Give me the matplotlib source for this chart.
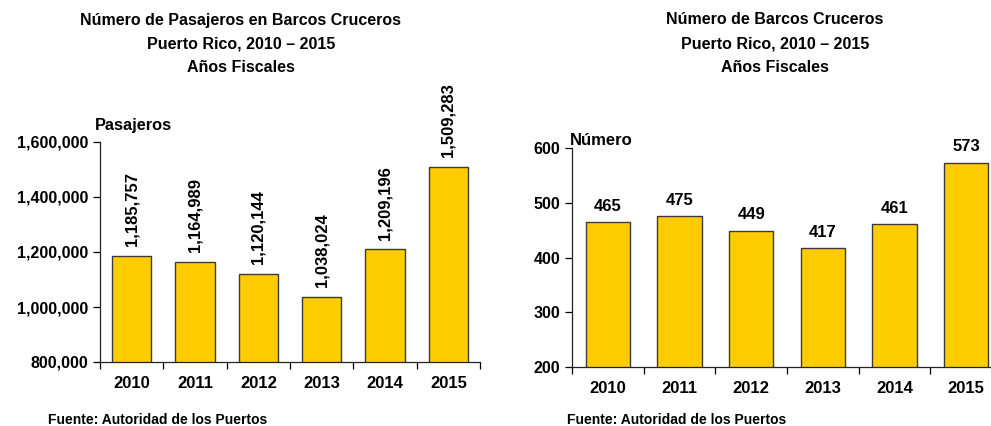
import numpy as np
import matplotlib.pyplot as plt

plt.rcParams['font.family'] = ['Liberation Sans', 'DejaVu Sans']
plt.rcParams['font.weight'] = 'bold'

years = ['2010', '2011', '2012', '2013', '2014', '2015']
pasajeros = [1185757, 1164989, 1120144, 1038024, 1209196, 1509283]
barcos = [465, 475, 449, 417, 461, 573]

title_left = ['Número de Pasajeros en Barcos Cruceros', 'Puerto Rico, 2010 – 2015', 'Años Fiscales']
title_right = ['Número de Barcos Cruceros', 'Puerto Rico, 2010 – 2015', 'Años Fiscales']
fuente = 'Fuente: Autoridad de los Puertos'

bar_color = '#FFCC00'
edge_color = '#3a3a3a'

fig = plt.figure(figsize=(9.91, 4.26), dpi=100)

def style_axes(ax, n):
    ax.spines['top'].set_visible(False)
    ax.spines['right'].set_visible(False)
    for s in ['left', 'bottom']:
        ax.spines[s].set_linewidth(0.9)
        ax.spines[s].set_color('#222222')
    ax.set_xticks(range(n))
    ax.set_xticklabels(years, fontsize=12, fontweight='bold')
    ax.set_xticks(np.arange(n + 1) - 0.5, minor=True)
    ax.tick_params(axis='x', which='major', length=0, pad=10)
    ax.tick_params(axis='x', which='minor', length=5, width=0.9, direction='out')
    ax.tick_params(axis='y', length=5, width=0.9, direction='out', labelsize=11.5)
    for lab in ax.get_yticklabels():
        lab.set_fontweight('bold')

# left chart: pasajeros
ax1 = fig.add_axes([100 / 991, 1 - 362 / 426, 380 / 991, 220 / 426])
x = np.arange(len(years))
ax1.bar(x, pasajeros, width=0.62, color=bar_color, edgecolor=edge_color, linewidth=1)
ax1.set_xlim(-0.5, len(years) - 0.5)
ax1.set_ylim(800000, 1600000)
ax1.set_yticks(range(800000, 1600001, 200000))
ax1.set_yticklabels([f'{v:,}' for v in range(800000, 1600001, 200000)])
style_axes(ax1, len(years))
for xi, v in zip(x, pasajeros):
    ax1.annotate(f'{v:,}', (xi, v), xytext=(0, 7), textcoords='offset points',
                 rotation=90, ha='center', va='bottom', fontsize=12, fontweight='bold')
ax1.text(-0.013, 1.04, 'Pasajeros', transform=ax1.transAxes, fontsize=11.8,
         fontweight='bold', ha='left', va='bottom')

# right chart: barcos
ax2 = fig.add_axes([572 / 991, 1 - 367 / 426, 430 / 991, 219 / 426])
ax2.bar(x, barcos, width=0.62, color=bar_color, edgecolor=edge_color, linewidth=1)
ax2.set_xlim(-0.5, len(years) - 0.5)
ax2.set_ylim(200, 600)
ax2.set_yticks(range(200, 601, 100))
style_axes(ax2, len(years))
for xi, v in zip(x, barcos):
    ax2.annotate(f'{v}', (xi, v), xytext=(0, 6), textcoords='offset points',
                 ha='center', va='bottom', fontsize=12, fontweight='bold')
ax2.text(-0.005, 1.0, 'Número', transform=ax2.transAxes, fontsize=12,
         fontweight='bold', ha='left', va='bottom')

for i, y in enumerate([20, 44, 68]):
    fig.text(241 / 991, 1 - y / 426, title_left[i], ha='center', va='center',
             fontsize=11.5, fontweight='bold')
    fig.text(775 / 991, 1 - y / 426, title_right[i], ha='center', va='center',
             fontsize=11.5, fontweight='bold')

fig.text(48 / 991, 1 - 420 / 426, fuente, ha='left', va='center', fontsize=10, fontweight='bold')
fig.text(567 / 991, 1 - 420 / 426, fuente, ha='left', va='center', fontsize=10, fontweight='bold')

fig.savefig('out.png', dpi=100)
